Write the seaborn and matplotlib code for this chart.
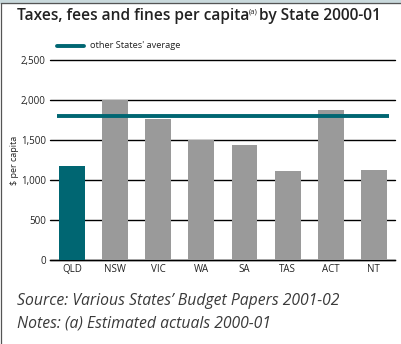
import matplotlib
matplotlib.use("Agg")
import matplotlib.pyplot as plt
import matplotlib.patches as mpatches
import matplotlib.lines as mlines
import seaborn as sns
import pandas as pd

states = ["QLD", "NSW", "VIC", "WA", "SA", "TAS", "ACT", "NT"]
per_capita = [1175, 2000, 1765, 1500, 1440, 1110, 1870, 1125]
other_states_average = 1800
y_ticks = [0, 500, 1000, 1500, 2000, 2500]

TEAL = "#006672"
GREY = "#9a9a9a"

sns.set_theme(style="white")
plt.rcParams["font.family"] = ["Open Sans", "DejaVu Sans"]

df = pd.DataFrame({"state": states, "value": per_capita})
df["group"] = ["Queensland" if s == "QLD" else "Other" for s in states]

fig = plt.figure(figsize=(4.02, 3.44), dpi=100)
W, H = 402, 344
ax = fig.add_axes([50 / W, 1 - 260 / H, 345 / W, 200 / H])

sns.barplot(data=df, x="state", y="value", hue="group",
            palette={"Queensland": TEAL, "Other": GREY},
            width=0.6, dodge=False, legend=False, ax=ax, zorder=3,
            saturation=1, linewidth=0, edgecolor="none")

ax.set_xlim(-0.51, 7.49)
ax.set_ylim(0, 2500)
ax.set_yticks(y_ticks)
ax.set_yticklabels([f"{v:,}" for v in y_ticks])
ax.yaxis.grid(True, color="black", linewidth=1.0, zorder=0)
for gl in ax.get_ygridlines():
    gl.set_clip_on(False)
ax.set_axisbelow(True)
for side in ["top", "right", "left"]:
    ax.spines[side].set_visible(False)
ax.spines["bottom"].set_color("black")
ax.spines["bottom"].set_linewidth(1.0)
ax.tick_params(axis="both", length=0, labelsize=7, colors="#222222", pad=3)
ax.set_xlabel("")
ax.set_ylabel("$ per capita", fontsize=6.5, color="#222222", labelpad=1)

# other States' average line
ax.plot([-0.35, 7.35], [other_states_average] * 2, color=TEAL,
        linewidth=2.8, solid_capstyle="butt", zorder=5)

# legend entry
fig.add_artist(mlines.Line2D([57 / W, 84 / W], [1 - 46 / H] * 2,
                             color=TEAL, linewidth=2.8,
                             solid_capstyle="round"))
fig.text(90 / W, 1 - 46 / H, "other States' average", fontsize=6.7,
         color="#222222", va="center", ha="left")

# title with superscript note marker
title_y = 1 - 16 / H
t1 = fig.text(17 / W, title_y, "Taxes, fees and fines per capita",
              fontsize=11.2, fontweight="semibold", color="#222222",
              va="center", ha="left")
fig.canvas.draw()
bb = t1.get_window_extent()
x_sup = bb.x1 / fig.dpi / 4.02
t2 = fig.text(x_sup - 1 / W, title_y + 4 / H, "(a)", fontsize=5.5,
              color="#222222", va="center", ha="left")
fig.canvas.draw()
bb2 = t2.get_window_extent()
fig.text(bb2.x1 / fig.dpi / 4.02 + 2 / W, title_y, "by State 2000-01",
         fontsize=11.2, fontweight="semibold", color="#222222",
         va="center", ha="left")

# footnotes
fig.text(17 / W, 1 - 301 / H, "Source: Various States\u2019 Budget Papers 2001-02",
         fontsize=11.3, style="italic", color="#3a3a3a", va="center", ha="left")
fig.text(17 / W, 1 - 323 / H, "Notes: (a) Estimated actuals 2000-01",
         fontsize=11.3, style="italic", color="#3a3a3a", va="center", ha="left")

# frame along top and left
fig.add_artist(mpatches.Rectangle((0, 1 - 2.5 / H), 1, 2.5 / H,
                                  transform=fig.transFigure,
                                  color="#c9d9dc", zorder=10))
fig.add_artist(mlines.Line2D([1.5 / W, 1], [1 - 3 / H] * 2,
                             color="#555555", linewidth=0.9, zorder=11))
fig.add_artist(mlines.Line2D([1.5 / W] * 2, [0, 1 - 3 / H],
                             color="#555555", linewidth=0.9, zorder=11))

fig.savefig("out.png", dpi=100)
